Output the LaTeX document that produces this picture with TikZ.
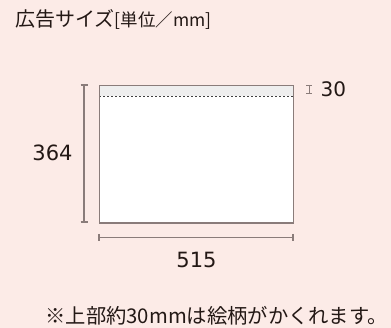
\documentclass[tikz,border=0pt]{standalone}
\usepackage{fontspec}
\setmainfont{Noto Sans CJK JP}
\newfontfamily\numfont{DejaVu Sans}
\definecolor{bgpink}{HTML}{FCEBE7}
\definecolor{linegray}{HTML}{8A7C7A}
\definecolor{bandgray}{HTML}{EEEEEE}
\definecolor{txt}{HTML}{231815}
\tikzset{
  dimline/.style={draw=linegray, line width=1.1pt},
  lbl/.style={inner sep=0pt, text=txt},
}
\begin{document}
\begin{tikzpicture}[x=1pt,y=-1pt]
\useasboundingbox (0,0) rectangle (391,328);
\fill[bgpink] (0,0) rectangle (391,328);
% title
\node[lbl, anchor=west] (title) at (15,20) {\fontsize{20}{20}\selectfont 広告サイズ\fontsize{17.5}{17.5}\selectfont[単位／mm]};
% rectangle
\fill[white] (99,85) rectangle (293,222.5);
\fill[bandgray] (99,85) rectangle (293,96);
\draw[black!75, line width=0.6pt, dash pattern=on 2.2pt off 1.8pt] (99,96) -- (293,96);
\node[draw=linegray, line width=1.1pt, minimum width=194pt, minimum height=137.5pt, inner sep=0pt, anchor=north west] (ad) at (99,85) {};
% left dimension
\coordinate (lt) at (84,85);
\coordinate (lb) at (84,222);
\draw[dimline] (lt) -- (lb);
\draw[dimline] (80.5,85) -- (87.5,85);
\draw[dimline] (80.5,222) -- (87.5,222);
\node[lbl] (h) at (52.5,153) {\fontsize{21}{21}\selectfont\numfont 364};
% bottom dimension
\coordinate (bl) at (99,237.5);
\coordinate (brr) at (293,237.5);
\draw[dimline] (bl) -- (brr);
\draw[dimline] (99,234) -- (99,241);
\draw[dimline] (293,234) -- (293,241);
\node[lbl] (w) at (196.5,260) {\fontsize{21}{21}\selectfont\numfont 515};
% top band dimension
\draw[draw=linegray, line width=0.7pt] (309,85) -- (309,93.5);
\draw[draw=linegray, line width=0.7pt] (306,85) -- (312,85);
\draw[draw=linegray, line width=0.7pt] (306,93.5) -- (312,93.5);
\node[lbl, anchor=west] (t30) at (320.5,89) {\fontsize{20}{20}\selectfont\numfont 30};
% note
\node[lbl, anchor=east] (note) at (388,316) {\fontsize{20.3}{20.3}\selectfont ※上部約30mmは絵柄がかくれます。};
\end{tikzpicture}
\end{document}
